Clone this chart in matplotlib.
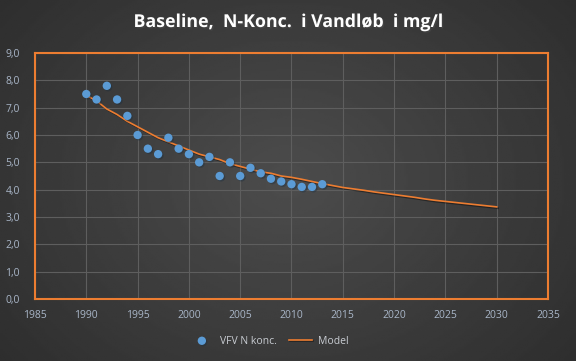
import numpy as np
import matplotlib.pyplot as plt
import matplotlib.patheffects as pe
from matplotlib.ticker import FuncFormatter

# observed N concentration (mg/l)
obs_years = list(range(1990, 2014))
obs_conc = [7.5, 7.3, 7.8, 7.3, 6.7, 6.0, 5.5, 5.3, 5.9, 5.5, 5.3, 5.0,
            5.2, 4.5, 5.0, 4.5, 4.8, 4.6, 4.4, 4.3, 4.2, 4.1, 4.1, 4.2]

# model curve
model_years = list(range(1990, 2031))
model_conc = [7.45, 7.25, 6.95, 6.75, 6.50, 6.30, 6.10, 5.90, 5.75, 5.60,
              5.45, 5.30, 5.20, 5.10, 4.95, 4.85, 4.75, 4.65, 4.60, 4.50,
              4.45, 4.38, 4.30, 4.22, 4.15, 4.08, 4.03, 3.98, 3.92, 3.87,
              3.82, 3.77, 3.72, 3.66, 3.61, 3.57, 3.53, 3.49, 3.45, 3.41,
              3.37]

plt.rcParams['font.family'] = ['Open Sans', 'DejaVu Sans']

fig = plt.figure(figsize=(5.76, 3.61), dpi=100)

# radial gradient background
bg = fig.add_axes([0, 0, 1, 1], zorder=-10)
yy, xx = np.mgrid[-1:1:200j, -1:1:300j]
r = np.sqrt(xx**2 + (yy * 0.8)**2)
bg.imshow(0.30 - 0.13 * np.clip(r, 0, 1.4) / 1.4, cmap='gray', vmin=0, vmax=1,
          aspect='auto', extent=[0, 1, 0, 1])
bg.axis('off')

ax = fig.add_axes([35 / 576, 1 - 299 / 361, 513 / 576, 246 / 361])
ax.patch.set_alpha(0)

pts = ax.scatter(obs_years, obs_conc, s=36, color='#5B9BD5', zorder=4,
                 label='VFV N konc.', linewidths=0,
                 path_effects=[pe.SimplePatchShadow(offset=(1, -1), alpha=0.4), pe.Normal()])
ln, = ax.plot(model_years, model_conc, color='#ED7D31', lw=1.2, zorder=3,
              label='Model',
              path_effects=[pe.SimpleLineShadow(offset=(1, -1), alpha=0.4), pe.Normal()])

ax.set_xlim(1985, 2035)
ax.set_ylim(0, 9)
ax.set_xticks(range(1985, 2036, 5))
ax.set_yticks(range(0, 10))
ax.yaxis.set_major_formatter(FuncFormatter(lambda v, p: f'{v:.1f}'.replace('.', ',')))
ax.grid(True, color='#5e5e5e', lw=0.8)
ax.set_axisbelow(True)
ax.tick_params(length=0, labelsize=7.5, colors='#A9B6C8')
ax.tick_params(axis='y', pad=11)
ax.tick_params(axis='x', pad=8)
for s in ax.spines.values():
    s.set_color('#ED7D31')
    s.set_linewidth(1.5)

fig.text(0.5, 1 - 22 / 361, 'Baseline,  N-Konc.  i Vandløb  i mg/l',
         ha='center', va='center', color='white', fontsize=12.8, fontweight='bold',
         path_effects=[pe.withSimplePatchShadow(offset=(1, -1), alpha=0.5)])

leg = fig.legend([pts, ln], ['VFV N konc.', 'Model'], loc='center',
                 bbox_to_anchor=(0.468, 1 - 341 / 361), ncol=2,
                 frameon=False, fontsize=7.5, labelcolor='#C8CCD2',
                 handlelength=2.2, columnspacing=1.2, handletextpad=0.6)

fig.savefig('out.png', dpi=100)
